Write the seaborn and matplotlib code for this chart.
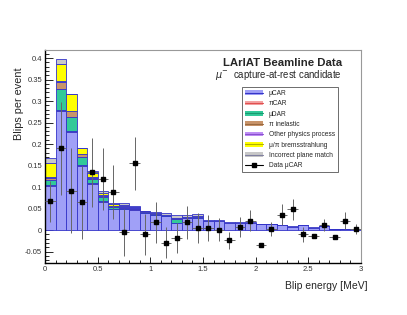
import numpy as np
import pandas as pd
import matplotlib
matplotlib.use("Agg")
import matplotlib.pyplot as plt
from matplotlib.patches import Patch
from matplotlib.lines import Line2D
from matplotlib.ticker import MultipleLocator, FuncFormatter
import seaborn as sns

# binning: 0.1 MeV bins from 0 to 3 MeV
bin_edges = np.round(np.arange(0, 3.01, 0.1), 2)
bin_centers = np.round(bin_edges[:-1] + 0.05, 2)

# stacked MC components (blips per event)
mu_car = [0.102, 0.276, 0.229, 0.149, 0.108, 0.066, 0.048, 0.048, 0.047, 0.040,
          0.035, 0.032, 0.017, 0.027, 0.029, 0.021, 0.020, 0.017, 0.016, 0.017,
          0.013, 0.013, 0.011, 0.008, 0.011, 0.005, 0.009, 0.002, 0.003, 0.003]
pi_car = [0.002, 0.003, 0.001, 0.002, 0.001, 0.001, 0.001, 0.001, 0.001, 0.0,
          0.0, 0.0, 0.0, 0.0, 0.0, 0.0, 0.0, 0.0, 0.0, 0.0,
          0.0, 0.0, 0.0, 0.0, 0.0, 0.0, 0.0, 0.0, 0.0, 0.0]
mu_dar = [0.013, 0.050, 0.032, 0.018, 0.009, 0.010, 0.004, 0.003, 0.002, 0.002,
          0.002, 0.002, 0.009, 0.002, 0.002, 0.001, 0.001, 0.0, 0.0, 0.0,
          0.0, 0.0, 0.0, 0.0, 0.0, 0.0, 0.0, 0.0, 0.0, 0.0]
pi_inel = [0.004, 0.016, 0.015, 0.007, 0.004, 0.003, 0.003, 0.002, 0.002, 0.001,
           0.001, 0.001, 0.001, 0.001, 0.001, 0.0, 0.0, 0.0, 0.0, 0.0,
           0.0, 0.0, 0.0, 0.0, 0.0, 0.0, 0.0, 0.0, 0.0, 0.0]
other = [0.002, 0.002, 0.001, 0.002, 0.001, 0.001, 0.001, 0.001, 0.001, 0.0,
         0.0, 0.0, 0.0, 0.0, 0.0, 0.0, 0.0, 0.0, 0.0, 0.0,
         0.0, 0.0, 0.0, 0.0, 0.0, 0.0, 0.0, 0.0, 0.0, 0.0]
brems = [0.032, 0.039, 0.038, 0.012, 0.010, 0.006, 0.003, 0.003, 0.001, 0.001,
         0.001, 0.001, 0.002, 0.001, 0.001, 0.0, 0.0, 0.0, 0.0, 0.0,
         0.0, 0.0, 0.0, 0.0, 0.0, 0.0, 0.0, 0.0, 0.0, 0.0]
incorrect = [0.012, 0.012, 0.0, 0.002, 0.005, 0.003, 0.004, 0.004, 0.003, 0.001,
             0.003, 0.003, 0.007, 0.003, 0.004, 0.002, 0.002, 0.002, 0.002, 0.002,
             0.002, 0.002, 0.001, 0.001, 0.001, 0.001, 0.001, 0.0, 0.0, 0.0]

# data points with errors
data_y = [0.067, 0.190, 0.091, 0.065, 0.134, 0.119, 0.088, -0.005, 0.155, -0.010,
          0.018, -0.029, -0.019, 0.018, 0.005, 0.005, 0.001, -0.024, 0.007, 0.022,
          -0.035, 0.002, 0.036, 0.048, -0.010, -0.013, 0.011, -0.017, 0.022, 0.002]
data_err = [0.048, 0.108, 0.099, 0.085, 0.080, 0.072, 0.063, 0.055, 0.061, 0.047,
            0.047, 0.035, 0.035, 0.039, 0.034, 0.031, 0.027, 0.020, 0.024, 0.024,
            0.004, 0.017, 0.024, 0.025, 0.018, 0.003, 0.014, 0.003, 0.020, 0.012]

labels = ["μCAR", "πCAR", "μDAR", "π inelastic", "Other physics process",
          "μ/π bremsstrahlung", "Incorrect plane match"]
fill_colors = ["#a0a0f7", "#f4a3a3", "#33c999", "#c8946a", "#bf8ff5", "#ffff00", "#c8c8c8"]
line_colors = ["#3535c8", "#e05050", "#1a9970", "#9a6a40", "#8a50d0", "#b0b000", "#8080a0"]
values = [mu_car, pi_car, mu_dar, pi_inel, other, brems, incorrect]

rows = []
for lab, vals in zip(labels, values):
    for c, v in zip(bin_centers, vals):
        rows.append({"energy": c, "value": v, "component": lab})
df = pd.DataFrame(rows)

sns.set_style("ticks")
plt.rcParams["font.family"] = ["Liberation Sans", "DejaVu Sans"]

fig = plt.figure(figsize=(4.07, 3.15), dpi=100)
ax = fig.add_axes([0.1106, 0.165, 0.7764, 0.676])

# seaborn puts the first hue level on top of the stack
sns.histplot(data=df, x="energy", weights="value", hue="component",
             hue_order=labels[::-1], multiple="stack", bins=list(bin_edges),
             palette=dict(zip(labels, fill_colors)), alpha=1,
             edgecolor="#3333c8", linewidth=0.6, legend=False, ax=ax)

ax.errorbar(bin_centers, data_y, xerr=0.05, yerr=data_err, fmt="s", color="k",
            ms=3.3, ecolor="0.4", elinewidth=0.7, capsize=0, zorder=5)

ax.set_xlim(0, 3)
ax.set_ylim(-0.0767, 0.4186)

ax.xaxis.set_major_locator(MultipleLocator(0.5))
ax.xaxis.set_minor_locator(MultipleLocator(0.1))
ax.yaxis.set_major_locator(MultipleLocator(0.05))
ax.yaxis.set_minor_locator(MultipleLocator(0.01))
fmt = FuncFormatter(lambda v, p: "%g" % round(v, 3))
ax.xaxis.set_major_formatter(fmt)
ax.yaxis.set_major_formatter(fmt)
ax.tick_params(axis="both", which="both", direction="in", labelsize=5.5,
               labelcolor="#333333", pad=2, width=0.7)
ax.tick_params(axis="y", which="major", length=5.8)
ax.tick_params(axis="y", which="minor", length=2.9)
ax.tick_params(axis="x", which="major", length=4.3)
ax.tick_params(axis="x", which="minor", length=2.2)

for s in ["top", "right"]:
    ax.spines[s].set_color("#999999")
    ax.spines[s].set_linewidth(0.8)
for s in ["left", "bottom"]:
    ax.spines[s].set_color("black")
    ax.spines[s].set_linewidth(1.0)

ax.set_xlabel("Blip energy [MeV]", fontsize=7.5, ha="right")
ax.xaxis.set_label_coords(1.022, -0.085)
ax.set_ylabel("Blips per event", fontsize=7.8)
ax.yaxis.set_label_coords(-0.068, 0.75)

ax.text(0.939, 0.938, "LArIAT Beamline Data", transform=ax.transAxes,
        ha="right", va="center", fontsize=8.2, fontweight="bold")
ax.text(0.939, 0.884, r"$\mu^{-}$  capture-at-rest candidate", transform=ax.transAxes,
        ha="right", va="center", fontsize=6.9)

handles = []
for fc, lc in zip(fill_colors, line_colors):
    handles.append((Patch(facecolor=fc, edgecolor="none"),
                    Line2D([], [], color=lc, lw=0.8)))
handles.append(Line2D([], [], color="k", lw=0.8, marker="s", ms=3))
leg_labels = labels + ["Data μCAR"]
leg = ax.legend(handles, leg_labels, loc="upper left", bbox_to_anchor=(0.623, 0.826),
                borderaxespad=0, fontsize=4.8, frameon=True, fancybox=False,
                edgecolor="#555555", framealpha=1, handlelength=2.7,
                handletextpad=0.9, labelspacing=0.5, borderpad=0.45)
leg.get_frame().set_linewidth(0.6)

fig.savefig("out.png", dpi=100)
